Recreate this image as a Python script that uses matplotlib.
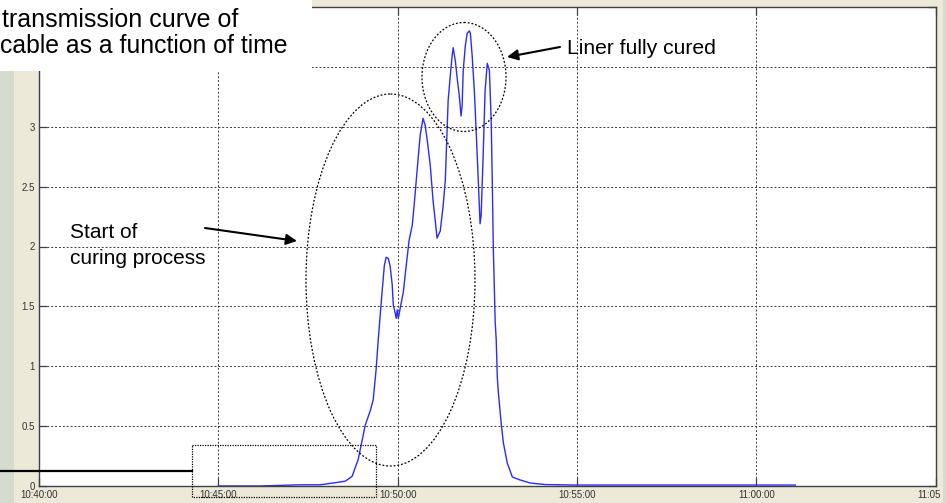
import matplotlib
matplotlib.use('Agg')
import matplotlib.pyplot as plt
import matplotlib.transforms as mtransforms
from matplotlib.patches import Ellipse, Rectangle, FancyArrowPatch
from matplotlib.lines import Line2D

# time in minutes after 10:40:00, signal
t_min = [5.00, 6.17, 7.28, 7.84, 8.20, 8.54, 8.73, 8.90, 9.01, 9.10,
         9.24, 9.32, 9.40, 9.46, 9.51, 9.57, 9.63, 9.68, 9.74, 9.79,
         9.85, 9.88, 9.93, 9.96, 9.99, 10.02, 10.07, 10.16, 10.24, 10.32,
         10.41, 10.46, 10.52, 10.58, 10.63, 10.71, 10.77, 10.83, 10.91, 10.99,
         11.08, 11.10, 11.19, 11.27, 11.33, 11.38, 11.41, 11.47, 11.52, 11.55,
         11.61, 11.66, 11.72, 11.77, 11.80, 11.83, 11.89, 11.94, 12.00, 12.03,
         12.08, 12.14, 12.19, 12.25, 12.30, 12.33, 12.39, 12.44, 12.50, 12.56,
         12.61, 12.64, 12.67, 12.70, 12.72, 12.75, 12.78, 12.81, 12.89, 12.95,
         13.06, 13.20, 13.42, 13.70, 14.12, 14.96, 21.09]
signal = [0.0, 0.0, 0.01, 0.01, 0.025, 0.04, 0.08, 0.22, 0.38, 0.51,
          0.63, 0.72, 0.97, 1.22, 1.41, 1.63, 1.84, 1.91, 1.90, 1.84,
          1.68, 1.51, 1.45, 1.40, 1.47, 1.40, 1.48, 1.62, 1.84, 2.05,
          2.18, 2.34, 2.55, 2.76, 2.93, 3.07, 3.01, 2.88, 2.68, 2.38,
          2.13, 2.07, 2.13, 2.34, 2.55, 2.97, 3.22, 3.43, 3.59, 3.66,
          3.55, 3.41, 3.26, 3.09, 3.18, 3.47, 3.68, 3.78, 3.80, 3.78,
          3.59, 3.30, 2.97, 2.55, 2.19, 2.26, 2.80, 3.30, 3.53, 3.47,
          3.05, 2.55, 1.97, 1.63, 1.38, 1.22, 0.91, 0.78, 0.52, 0.36,
          0.19, 0.075, 0.05, 0.025, 0.012, 0.008, 0.008]

x_ticks = [0, 5, 10, 15, 20, 25]
x_labels = ['10:40:00', '10:45:00', '10:50:00', '10:55:00', '11:00:00', '11:05:00']
y_ticks = [0, 0.5, 1, 1.5, 2, 2.5, 3, 3.5, 4]
# the two top labels sit under the title box in the screenshot
y_labels = ['0', '0.5', '1', '1.5', '2', '2.5', '3', '', '']

W, H = 946, 503
beige = '#ece9d8'
grey = '#d5dbcf'

fig = plt.figure(figsize=(W / 100, H / 100), dpi=100, facecolor=beige)
# pixel coordinates, origin at top left
pix = mtransforms.Affine2D().scale(1 / W, -1 / H).translate(0, 1) + fig.transFigure

ax = fig.add_axes([39 / W, (H - 486) / H, (935.5 - 39) / W, (486 - 7) / H])
ax.plot(t_min, signal, color='#2b2bff', lw=1.0)
ax.set_xlim(0, 25)
ax.set_ylim(0, 4)
ax.set_xticks(x_ticks)
ax.set_xticklabels(x_labels)
ax.set_yticks(y_ticks)
ax.set_yticklabels(y_labels)
ax.grid(True, ls=(0, (2, 2)), color='#3a3a3a', lw=0.7)
ax.tick_params(direction='in', length=6, width=0.9, color='#404040',
               labelsize=7, labelcolor='#333333', pad=3,
               right=True, top=True)
for lab in ax.get_xticklabels() + ax.get_yticklabels():
    lab.set_family('Liberation Sans')
for s in ax.spines.values():
    s.set_color('#404040')
    s.set_linewidth(1)

# side strips of the screenshot
fig.add_artist(Rectangle((0, 0), 14, H, transform=pix, fc=grey, ec='none', zorder=-1))
fig.add_artist(Rectangle((941, 0), 2, H, transform=pix, fc=beige, ec='none', zorder=5))
fig.add_artist(Rectangle((943, 0), 3, H, transform=pix, fc=grey, ec='none', zorder=5))

# title box
fig.add_artist(Rectangle((0, 0), 312, 71, transform=pix, fc='white', ec='none', zorder=5))
fig.text(2, 27, 'transmission curve of', transform=pix, fontsize=18,
         family='Liberation Sans', va='baseline', zorder=6)
fig.text(0, 53, 'cable as a function of time', transform=pix, fontsize=17.8,
         family='Liberation Sans', va='baseline', zorder=6)

# annotations
fig.add_artist(Line2D([0, 192], [471, 471], transform=pix, color='k', lw=1.6, zorder=6))
fig.add_artist(Rectangle((192, 445), 183.7, 52, transform=pix, fill=False,
                         ec='k', lw=0.9, ls=(0, (1, 1)), zorder=6))
fig.add_artist(Ellipse((390.5, 280), 169, 372, transform=pix, fill=False,
                       ec='k', lw=0.9, ls=(0, (1.5, 1.5)), zorder=6))
fig.add_artist(Ellipse((464, 77), 84, 109, transform=pix, fill=False,
                       ec='k', lw=0.9, ls=(0, (1.5, 1.5)), zorder=6))

fig.text(567, 54, 'Liner fully cured', transform=pix, fontsize=15.2,
         family='Liberation Sans', va='baseline', zorder=6)
fig.add_artist(FancyArrowPatch((560, 47), (507, 57), transform=pix,
                               arrowstyle='-|>', mutation_scale=16, lw=1.5,
                               color='k', shrinkA=0, shrinkB=0, zorder=6))
fig.text(70, 238, 'Start of', transform=pix, fontsize=15,
         family='Liberation Sans', va='baseline', zorder=6)
fig.text(70, 264, 'curing process', transform=pix, fontsize=15,
         family='Liberation Sans', va='baseline', zorder=6)
fig.add_artist(FancyArrowPatch((205, 228), (297, 241), transform=pix,
                               arrowstyle='-|>', mutation_scale=16, lw=1.5,
                               color='k', shrinkA=0, shrinkB=0, zorder=6))

fig.savefig('out.png', dpi=100, facecolor=fig.get_facecolor())
